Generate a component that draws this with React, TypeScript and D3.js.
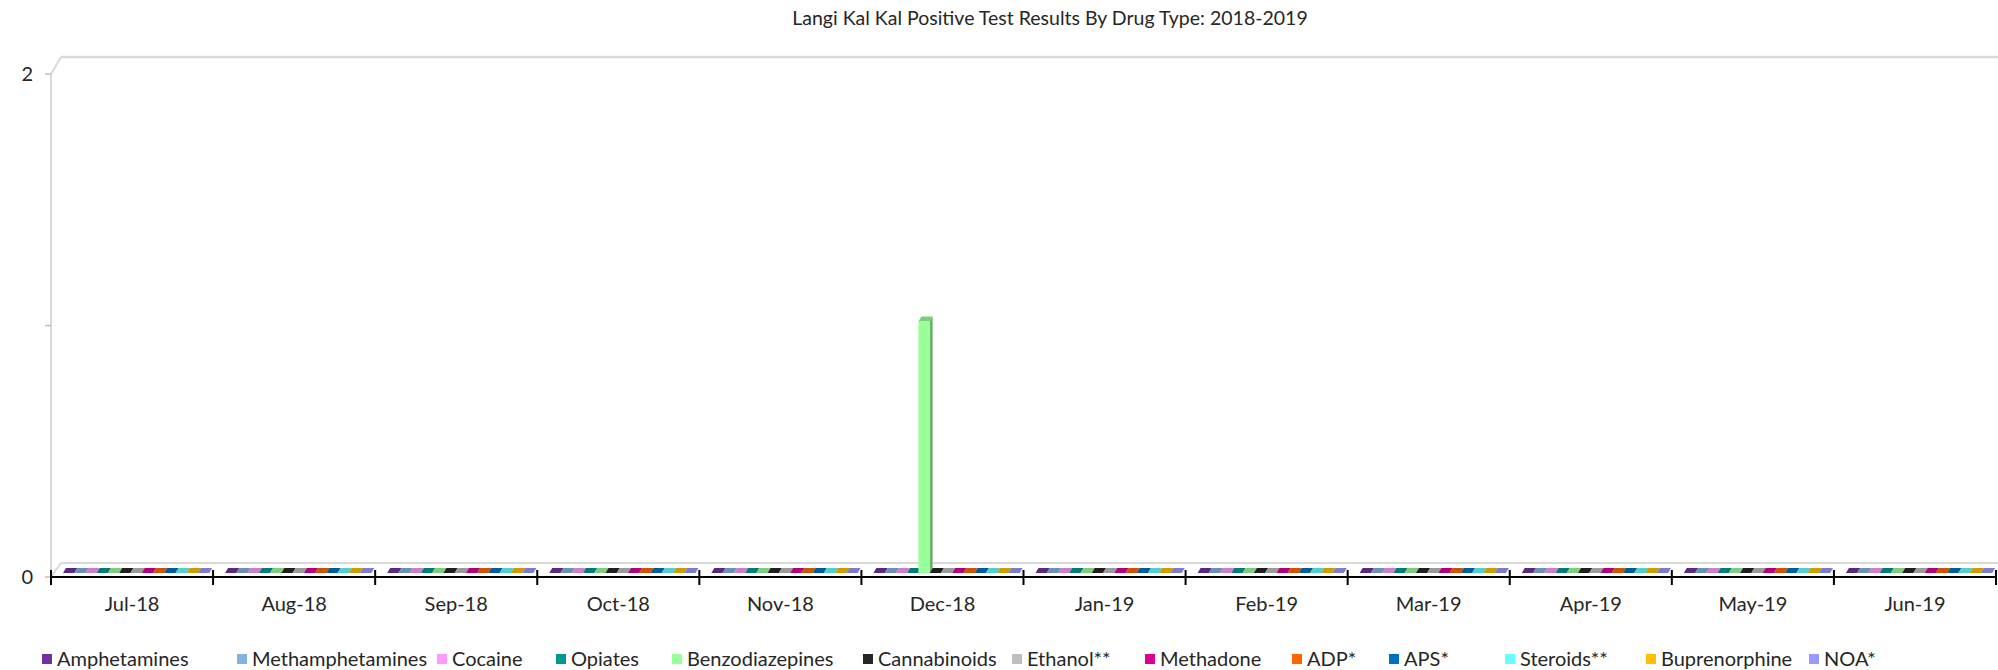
import React from "react";
import * as d3 from "d3";

const months = ["Jul-18", "Aug-18", "Sep-18", "Oct-18", "Nov-18", "Dec-18", "Jan-19", "Feb-19", "Mar-19", "Apr-19", "May-19", "Jun-19"];
const seriesNames = ["Amphetamines", "Methamphetamines", "Cocaine", "Opiates", "Benzodiazepines", "Cannabinoids", "Ethanol**", "Methadone", "ADP*", "APS*", "Steroids**", "Buprenorphine", "NOA*"];
const seriesColors = ["#7030A0", "#83B3E0", "#FF99FF", "#009990", "#99FF99", "#262626", "#BFBFBF", "#DC0096", "#FF6600", "#0070C0", "#66FFFF", "#FFC000", "#9999FF"];

const amphetamines = [0, 0, 0, 0, 0, 0, 0, 0, 0, 0, 0, 0];
const methamphetamines = [0, 0, 0, 0, 0, 0, 0, 0, 0, 0, 0, 0];
const cocaine = [0, 0, 0, 0, 0, 0, 0, 0, 0, 0, 0, 0];
const opiates = [0, 0, 0, 0, 0, 0, 0, 0, 0, 0, 0, 0];
const benzodiazepines = [0, 0, 0, 0, 0, 1, 0, 0, 0, 0, 0, 0];
const cannabinoids = [0, 0, 0, 0, 0, 0, 0, 0, 0, 0, 0, 0];
const ethanol = [0, 0, 0, 0, 0, 0, 0, 0, 0, 0, 0, 0];
const methadone = [0, 0, 0, 0, 0, 0, 0, 0, 0, 0, 0, 0];
const adp = [0, 0, 0, 0, 0, 0, 0, 0, 0, 0, 0, 0];
const aps = [0, 0, 0, 0, 0, 0, 0, 0, 0, 0, 0, 0];
const steroids = [0, 0, 0, 0, 0, 0, 0, 0, 0, 0, 0, 0];
const buprenorphine = [0, 0, 0, 0, 0, 0, 0, 0, 0, 0, 0, 0];
const noa = [0, 0, 0, 0, 0, 0, 0, 0, 0, 0, 0, 0];
const seriesValues = [amphetamines, methamphetamines, cocaine, opiates, benzodiazepines, cannabinoids, ethanol, methadone, adp, aps, steroids, buprenorphine, noa];

const yTicks = [0, 1, 2];
const yLabels = [0, 2];
const title = "Langi Kal Kal Positive Test Results By Drug Type: 2018-2019";

const legendX = [47, 242, 442, 561, 677, 868, 1017, 1150, 1297, 1394, 1510, 1651, 1814];

const W = 1998;
const H = 670;
const FONT = "Lato, 'Open Sans', sans-serif";

export default function App() {
  const x0 = 51;
  const x1 = 1996;
  const yBase = 577;
  const yTop = 74;
  const wallDx = 10;
  const wallDy = -14;

  const x = d3.scaleBand<string>().domain(months).range([x0, x1]).padding(0);
  const bw = x.bandwidth();
  const inner = d3.scaleBand<string>().domain(seriesNames).range([12, 12 + 13 * 11.25]).padding(0);
  const y = d3.scaleLinear().domain([0, 2]).range([yBase, yTop]);

  const barOffY = -4;
  const bdx = 3;
  const bdy = -5;

  const bars: React.ReactNode[] = [];
  months.forEach((m, mi) => {
    seriesNames.forEach((s, si) => {
      const v = seriesValues[si][mi];
      const bx = (x(m) as number) + (inner(s) as number);
      const w = inner.bandwidth();
      const yb = y(0) + barOffY;
      const yt = y(v) + barOffY;
      const c = d3.color(seriesColors[si])!;
      const topCol = c.darker(0.6).formatHex();
      const sideCol = c.darker(1.0).formatHex();
      const key = `${mi}-${si}`;
      if (v > 0) {
        bars.push(
          <g key={key}>
            <polygon points={`${bx + w},${yt} ${bx + w + bdx},${yt + bdy} ${bx + w + bdx},${yb + bdy} ${bx + w},${yb}`} fill={sideCol} />
            <polygon points={`${bx},${yt} ${bx + bdx},${yt + bdy} ${bx + w + bdx},${yt + bdy} ${bx + w},${yt}`} fill={topCol} />
            <rect x={bx} y={yt} width={w} height={yb - yt} fill={seriesColors[si]} />
          </g>
        );
      } else {
        bars.push(
          <polygon key={key} points={`${bx},${yb} ${bx + bdx},${yb + bdy} ${bx + w + bdx},${yb + bdy} ${bx + w},${yb}`} fill={topCol} />
        );
      }
    });
  });

  return (
    <svg width={W} height={H} style={{ position: "absolute", left: 0, top: 0, background: "#fff" }} fontFamily={FONT}>
      <text x={1050} y={25} textAnchor="middle" fontSize={19.5} fill="#262626">{title}</text>

      {/* walls */}
      <line x1={x0} y1={yBase} x2={x0} y2={yTop} stroke="#D9D9D9" strokeWidth={2} />
      <line x1={x0} y1={yTop} x2={x0 + wallDx} y2={yTop + wallDy - 3} stroke="#D9D9D9" strokeWidth={2} />
      <line x1={x0 + wallDx} y1={yTop + wallDy - 3} x2={W} y2={yTop + wallDy - 3} stroke="#D9D9D9" strokeWidth={2.5} />
      {/* floor */}
      <line x1={x0} y1={yBase} x2={x0 + wallDx} y2={yBase + wallDy} stroke="#D9D9D9" strokeWidth={2} />
      <line x1={x0 + wallDx} y1={yBase + wallDy} x2={W} y2={yBase + wallDy} stroke="#D9D9D9" strokeWidth={2} />

      {yTicks.map((t) => (
        <line key={t} x1={x0 - 6} x2={x0} y1={y(t)} y2={y(t)} stroke="#BFBFBF" strokeWidth={1.5} />
      ))}
      {yLabels.map((t) => (
        <text key={t} x={33} y={y(t) + 7} textAnchor="end" fontSize={20} fill="#262626">{t}</text>
      ))}

      {bars}

      <line x1={x0} x2={x1} y1={yBase} y2={yBase} stroke="#000" strokeWidth={2} />
      {[...months.map((m) => x(m) as number), x1].map((t, i) => (
        <line key={i} x1={t} x2={t} y1={yBase - 7} y2={yBase + 8} stroke="#000" strokeWidth={2} />
      ))}
      {months.map((m) => (
        <text key={m} x={(x(m) as number) + bw / 2} y={611} textAnchor="middle" fontSize={20} fill="#262626">{m}</text>
      ))}

      {seriesNames.map((s, i) => (
        <g key={s} transform={`translate(${legendX[i]},659)`}>
          <rect x={-5} y={-5} width={10} height={10} fill={seriesColors[i]} />
          <text x={10} y={7} fontSize={20} fill="#262626">{s}</text>
        </g>
      ))}
    </svg>
  );
}
